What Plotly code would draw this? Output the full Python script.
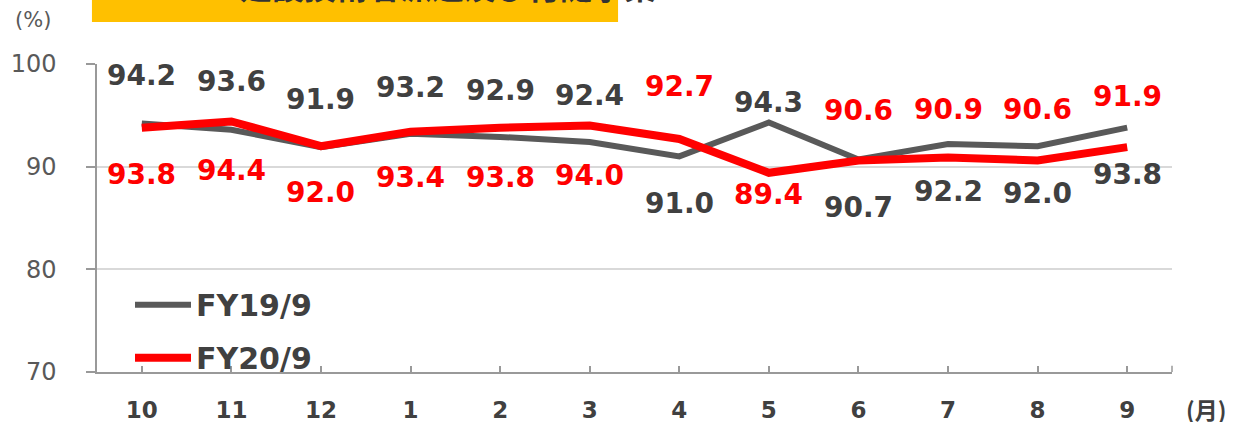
import plotly.graph_objects as go

months = ["10", "11", "12", "1", "2", "3", "4", "5", "6", "7", "8", "9"]
fy19 = [94.2, 93.6, 91.9, 93.2, 92.9, 92.4, 91.0, 94.3, 90.7, 92.2, 92.0, 93.8]
fy20 = [93.8, 94.4, 92.0, 93.4, 93.8, 94.0, 92.7, 89.4, 90.6, 90.9, 90.6, 91.9]
series_names = ["FY19/9", "FY20/9"]
y_ticks = [70, 80, 90, 100]
title_text = "建設技術者派遣及び付随事業"

# label pixel offsets (style only; negative = above the point)
off19 = [-48, -48, -48, -46, -46, -47, 47, -20, 48, 47, 47, 47]
off20 = [47, 49, 46, 46, 50, 50, -52, 22, -50, -48, -51, -51]

GRAY = "#595959"
RED = "#FF0000"
TXT = "#404040"
FONT = "DejaVu Sans"

fig = go.Figure()
fig.add_trace(go.Scatter(x=months, y=fy19, mode="lines", name=series_names[0],
                         line=dict(color=GRAY, width=6), legendgroup="a"))
fig.add_trace(go.Scatter(x=months, y=fy20, mode="lines", name=series_names[1],
                         line=dict(color=RED, width=8), legendgroup="b"))

for i, (v, o) in enumerate(zip(fy19, off19)):
    fig.add_annotation(x=i, y=v, text=f"{v:.1f}", showarrow=False, yshift=-o,
                       font=dict(family=FONT, size=28, color=TXT, weight="bold"))
for i, (v, o) in enumerate(zip(fy20, off20)):
    fig.add_annotation(x=i, y=v, text=f"{v:.1f}", showarrow=False, yshift=-o,
                       font=dict(family=FONT, size=28, color=RED, weight="bold"))

# unit labels
fig.add_annotation(xref="paper", yref="paper", x=-0.0595, y=1.143, text="(%)",
                   showarrow=False, xanchor="center", yanchor="middle",
                   font=dict(family=FONT, size=21, color=GRAY))
fig.add_annotation(xref="paper", yref="paper", x=1.032, y=-0.12, text="(月)",
                   showarrow=False, xanchor="center", yanchor="middle",
                   font=dict(family="Noto Sans CJK JP", size=23, color=TXT, weight="bold"))

# title box (cut off at top, as in the source)
fig.add_shape(type="rect", xref="paper", yref="paper", x0=-0.0047, x1=0.4847,
              y0=1.136, y1=1.3, fillcolor="#FFC000", line=dict(width=0), layer="below")
fig.add_annotation(xref="paper", yref="paper", x=0.3265, y=1.258, text=title_text,
                   showarrow=False, xanchor="center", yanchor="middle",
                   font=dict(family="Noto Sans CJK JP", size=32, color="#333333", weight="bold"))

# right-end tick of x axis
fig.add_shape(type="line", xref="paper", yref="paper", x0=1, x1=1, y0=0, y1=0.02,
              line=dict(color="#999999", width=1.5))

fig.update_layout(
    width=1238, height=422,
    margin=dict(l=97, r=66, t=64, b=50, autoexpand=False),
    paper_bgcolor="white", plot_bgcolor="white",
    showlegend=True,
    legend=dict(x=0.0307, y=0.303, xanchor="left", yanchor="top",
                bgcolor="rgba(0,0,0,0)", itemwidth=56, tracegroupgap=11,
                traceorder="grouped",
                font=dict(family=FONT, size=30, color=TXT, weight="bold")),
    xaxis=dict(type="category", categoryorder="array", categoryarray=months,
               range=[-0.5, 11.5], showgrid=False, showline=True, automargin=False,
               linecolor="#999999", linewidth=1.5, ticks="inside", ticklen=6,
               tickcolor="#999999", tickwidth=1.5, ticklabelstandoff=17,
               tickfont=dict(family=FONT, size=23, color=TXT, weight="bold")),
    yaxis=dict(range=[70, 100], tickvals=y_ticks, showgrid=True, automargin=False,
               gridcolor="#D9D9D9", gridwidth=1.5, showline=True,
               linecolor="#999999", linewidth=1.5, ticks="outside", ticklen=9,
               tickcolor="#999999", tickwidth=1.5, ticklabelstandoff=25,
               zeroline=False,
               tickfont=dict(family=FONT, size=24, color=GRAY)),
)

fig.write_html("out.html", config={"displayModeBar": False},
               post_script="document.body.style.margin='0';document.body.style.overflow='hidden';")
